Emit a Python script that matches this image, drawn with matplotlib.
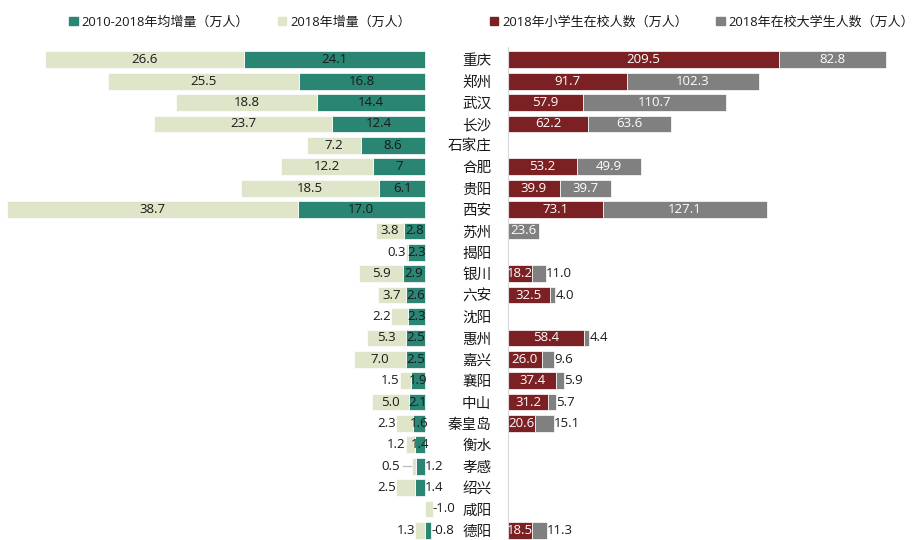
import matplotlib.pyplot as plt
from matplotlib.patches import Patch
import numpy as np

plt.rcParams['font.family'] = ['Open Sans', 'Noto Sans CJK SC', 'DejaVu Sans']

# 数据
cities = ['重庆', '郑州', '武汉', '长沙', '石家庄', '合肥', '贵阳', '西安', '苏州', '揭阳',
          '银川', '六安', '沈阳', '惠州', '嘉兴', '襄阳', '中山', '秦皇岛', '衡水', '孝感',
          '绍兴', '咸阳', '德阳']
avg_inc = [24.1, 16.8, 14.4, 12.4, 8.6, 7, 6.1, 17.0, 2.8, 2.3,
           2.9, 2.6, 2.3, 2.5, 2.5, 1.9, 2.1, 1.6, 1.4, 1.2,
           1.4, 0, -0.8]
inc_2018 = [26.6, 25.5, 18.8, 23.7, 7.2, 12.2, 18.5, 38.7, 3.8, 0.3,
            5.9, 3.7, 2.2, 5.3, 7.0, 1.5, 5.0, 2.3, 1.2, 0.5,
            2.5, -1.0, 1.3]
pupils = [209.5, 91.7, 57.9, 62.2, 0, 53.2, 39.9, 73.1, 0, 0,
          18.2, 32.5, 0, 58.4, 26.0, 37.4, 31.2, 20.6, 0, 0,
          0, 0, 18.5]
college = [82.8, 102.3, 110.7, 63.6, 0, 49.9, 39.7, 127.1, 23.6, 0,
           11.0, 4.0, 0, 4.4, 9.6, 5.9, 5.7, 15.1, 0, 0,
           0, 0, 11.3]

GREEN = '#2b8573'
BEIGE = '#dfe5c8'
RED = '#7b2123'
GRAY = '#808080'
TXT = '#1a1a1a'
FS = 9.5

green_out = {'孝感', '绍兴', '德阳'}
leader = {'孝感'}


def fmt(v):
    return str(v) if isinstance(v, int) else f'{v:.1f}'


fig = plt.figure(figsize=(9.17, 5.4), dpi=100)
h = (540 - 47) / 540
axL = fig.add_axes([5 / 917, 0, 445 / 917, h])
axR = fig.add_axes([508 / 917, 0, 404 / 917, h])
ylim = (22.45, -0.6)

y = np.arange(len(cities))
g = np.array(avg_inc, float)
b = np.array(inc_2018, float)
b_left = np.where(b >= 0, np.maximum(g, 0), np.minimum(g, 0))

# 左侧：人口增量
axL.barh(y, g, height=0.78, color=GREEN, edgecolor='white', linewidth=0.5)
axL.barh(y, b, left=b_left, height=0.78, color=BEIGE, edgecolor='white', linewidth=0.5)
axL.set_xlim(56, -3.33)
axL.set_ylim(*ylim)
axL.axis('off')

for i, c in enumerate(cities):
    gv, bv = avg_inc[i], inc_2018[i]
    if gv != 0:
        if c in green_out:
            axL.text(min(0, gv), i, fmt(gv), ha='left', va='center', fontsize=FS, color=TXT)
        else:
            axL.text(gv / 2, i, fmt(gv), ha='center', va='center', fontsize=FS, color=TXT)
    end = b_left[i] + bv
    if abs(bv) >= 3:
        axL.text(b_left[i] + bv / 2, i, fmt(bv), ha='center', va='center', fontsize=FS, color=TXT)
    elif bv > 0:
        if c in leader:
            axL.plot([end + 0.2, end + 1.3], [i, i], color='#bfbfbf', lw=1)
            axL.text(end + 1.6, i, fmt(bv), ha='right', va='center', fontsize=FS, color=TXT)
        else:
            axL.text(end, i, fmt(bv), ha='right', va='center', fontsize=FS, color=TXT)
    elif bv < 0:
        axL.text(end, i, fmt(bv), ha='left', va='center', fontsize=FS, color=TXT)

# 右侧：在校学生
p = np.array(pupils, float)
s = np.array(college, float)
axR.barh(y, p, height=0.78, color=RED, edgecolor='white', linewidth=0.5)
axR.barh(y, s, left=p, height=0.78, color=GRAY, edgecolor='white', linewidth=0.5)
axR.set_xlim(0, 312.4)
axR.set_ylim(*ylim)

for i in range(len(cities)):
    if p[i] > 0:
        axR.text(p[i] / 2, i, fmt(pupils[i]), ha='center', va='center', fontsize=FS, color='white')
    if s[i] >= 20:
        axR.text(p[i] + s[i] / 2, i, fmt(college[i]), ha='center', va='center', fontsize=FS, color='white')
    elif s[i] > 0:
        axR.text(p[i] + s[i], i, fmt(college[i]), ha='left', va='center', fontsize=FS, color=TXT)

for side in ['top', 'right', 'bottom']:
    axR.spines[side].set_visible(False)
axR.spines['left'].set_color('#d9d9d9')
axR.set_xticks([])
axR.set_yticks(y, cities)
axR.tick_params(axis='y', length=0, pad=12, labelsize=10.5, labelcolor=TXT)

# 图例
leg_kw = dict(frameon=False, ncol=2, fontsize=9.4, handlelength=0.65, handleheight=0.65,
              handletextpad=0.3, borderaxespad=0, labelcolor=TXT)
fig.legend(handles=[Patch(color=GREEN, label='2010-2018年均增量（万人）'),
                    Patch(color=BEIGE, label='2018年增量（万人）')],
           loc='center', bbox_to_anchor=(240 / 917, 1 - 22 / 540), columnspacing=2.2, **leg_kw)
fig.legend(handles=[Patch(color=RED, label='2018年小学生在校人数（万人）'),
                    Patch(color=GRAY, label='2018年在校大学生人数（万人）')],
           loc='center', bbox_to_anchor=(702 / 917, 1 - 22 / 540), columnspacing=2.2, **leg_kw)

fig.savefig('out.png', dpi=100)
